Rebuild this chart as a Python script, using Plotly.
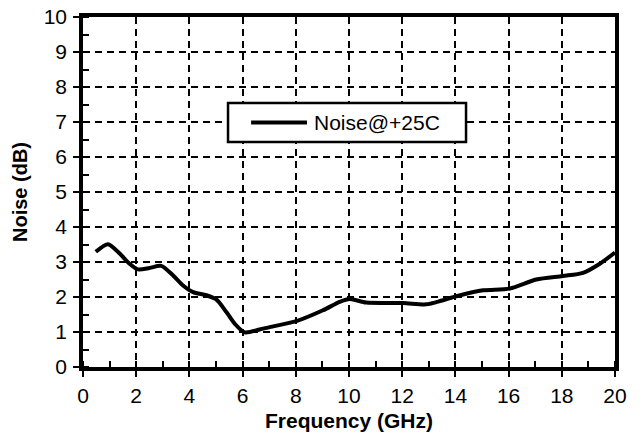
import plotly.graph_objects as go

freq_ghz = [0.48, 0.94, 1.38, 1.75, 2.07, 2.5, 2.94, 3.38, 3.76, 4.14, 4.64, 5.01, 5.39, 5.7, 6.08,
            6.64, 7.02, 8.02, 9.02, 9.65, 10.03, 10.65, 12.03, 12.9, 13.5, 14.04, 15.04, 16.04,
            17.04, 18.04, 18.8, 19.43, 20.0]
noise_db = [3.29, 3.51, 3.24, 2.95, 2.79, 2.83, 2.89, 2.62, 2.33, 2.14, 2.05, 1.93, 1.57, 1.24, 0.99,
            1.07, 1.14, 1.31, 1.62, 1.86, 1.94, 1.84, 1.83, 1.79, 1.9, 2.02, 2.19, 2.24,
            2.50, 2.6, 2.69, 2.95, 3.27]
series_name = "Noise@+25C"
x_title = "Frequency (GHz)"
y_title = "Noise (dB)"

FONT = "Liberation Sans, Arial, sans-serif"

fig = go.Figure()
fig.add_trace(go.Scatter(
    x=freq_ghz, y=noise_db, mode="lines", name=series_name,
    line=dict(color="black", width=4, shape="spline", smoothing=0.75),
    showlegend=False,
))

axis_common = dict(
    showline=True, linecolor="black", linewidth=3.5, mirror=True,
    showgrid=True, gridcolor="black", gridwidth=1.6, griddash="7px,5px",
    ticks="outside", ticklen=6, tickwidth=2, tickcolor="black",
    tickfont=dict(family=FONT, size=21, color="black"),
    zeroline=False, automargin=False,
)

fig.update_xaxes(
    range=[0, 20], dtick=2, tick0=0,
    title=dict(text="<b>" + x_title + "</b>", font=dict(family=FONT, size=21, color="black"), standoff=8),
    minor=dict(dtick=1, ticks="inside", ticklen=6, tickwidth=2, tickcolor="black", showgrid=False),
    ticklabelstandoff=1,
    **axis_common,
)
fig.update_yaxes(
    range=[0, 10], dtick=1, tick0=0,
    title=dict(text="<b>" + y_title + "</b>", font=dict(family=FONT, size=20, color="black"), standoff=12),
    minor=dict(dtick=0.5, ticks="inside", ticklen=6, tickwidth=2, tickcolor="black", showgrid=False),
    ticklabelstandoff=2,
    **axis_common,
)

# Legend box drawn in paper coordinates
fig.add_shape(type="rect", xref="paper", yref="paper", x0=0.2726, x1=0.720, y0=0.643, y1=0.754,
              line=dict(color="black", width=2.5), fillcolor="white", layer="above")
fig.add_shape(type="line", xref="paper", yref="paper", x0=0.316, x1=0.421, y0=0.6986, y1=0.6986,
              line=dict(color="black", width=4), layer="above")
fig.add_annotation(xref="paper", yref="paper", x=0.431, y=0.6986, xanchor="left", yanchor="middle",
                   text=series_name, showarrow=False,
                   font=dict(family=FONT, size=21, color="black"))

fig.update_layout(
    width=642, height=439,
    margin=dict(l=83, r=27, t=17, b=72),
    paper_bgcolor="white", plot_bgcolor="white",
    showlegend=False,
)

fig.write_html("out.html")
